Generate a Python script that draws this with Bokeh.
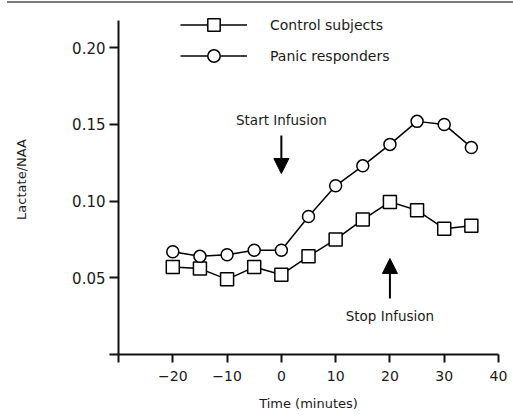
from bokeh.plotting import figure
from bokeh.models import (FixedTicker, Arrow, NormalHead, Label, Legend, LegendItem,
                          ColumnDataSource, Div)
from bokeh.layouts import column
from bokeh.embed import file_html
from bokeh.resources import INLINE

# ---- data ----
time_min = [-20, -15, -10, -5, 0, 5, 10, 15, 20, 25, 30, 35]
control = [0.057, 0.056, 0.049, 0.057, 0.052, 0.064, 0.075, 0.088, 0.0995, 0.094, 0.082, 0.084]
panic = [0.067, 0.064, 0.065, 0.068, 0.068, 0.090, 0.110, 0.123, 0.137, 0.152, 0.150, 0.135]
x_ticks = [-30, -20, -10, 0, 10, 20, 30, 40]
y_ticks = [0.0, 0.05, 0.10, 0.15, 0.20]
y_axis_top = 0.2178
start_label = "Start Infusion"
stop_label = "Stop Infusion"
start_x, stop_x = 0, 20

FONT = "DejaVu Sans"
INK = "#1a1a1a"

p = figure(width=513, height=416, x_range=(-30, 40), y_range=(0, 0.2282),
           output_backend="svg", toolbar_location=None,
           min_border_left=118, min_border_right=15, min_border_top=0,
           min_border_bottom=66)
p.outline_line_color = None
p.xgrid.visible = False
p.ygrid.visible = False
p.background_fill_color = "white"
p.border_fill_color = "white"

src = ColumnDataSource(dict(t=time_min, c=control, p=panic))

lc = p.line("t", "c", source=src, line_color="black", line_width=1.5)
mc = p.scatter("t", "c", source=src, marker="square", size=13, fill_color="white",
               line_color="black", line_width=1.5)
lp = p.line("t", "p", source=src, line_color="black", line_width=1.5)
mp = p.scatter("t", "p", source=src, marker="circle", size=12, fill_color="white",
               line_color="black", line_width=1.5)

# axes
for ax in (p.xaxis[0], p.yaxis[0]):
    ax.axis_line_width = 2
    ax.axis_line_color = "#111111"
    ax.major_tick_line_width = 2
    ax.major_tick_line_color = "#111111"
    ax.minor_tick_line_color = None
    ax.major_tick_in = 0
    ax.major_label_text_font = FONT
    ax.major_label_text_color = INK
    ax.axis_label_text_font = FONT
    ax.axis_label_text_font_style = "normal"
    ax.axis_label_text_color = INK

p.xaxis.ticker = FixedTicker(ticks=x_ticks)
p.xaxis.major_tick_out = 8
p.xaxis.major_label_text_font_size = "14px"
p.xaxis.major_label_overrides = {t: ("" if t == -30 else str(t).replace("-", "\u2212")) for t in x_ticks}
p.xaxis.major_label_standoff = 8
p.xaxis.axis_label = "Time (minutes)"
p.xaxis.axis_label_text_font_size = "13px"
p.xaxis.axis_label_standoff = 12

p.yaxis.ticker = FixedTicker(ticks=y_ticks)
p.yaxis.bounds = (0, y_axis_top)
p.yaxis.major_tick_out = 9
p.yaxis.major_label_text_font_size = "15px"
p.yaxis.major_label_overrides = {t: ("" if t == 0 else f"{t:.2f}") for t in y_ticks}
p.yaxis.major_label_standoff = 4
p.yaxis.axis_label = "Lactate/NAA"
p.yaxis.axis_label_text_font_size = "13px"
p.yaxis.axis_label_standoff = 40

# arrows
p.add_layout(Arrow(end=NormalHead(size=15, fill_color="black", line_color="black"),
                   x_start=start_x, y_start=0.1428, x_end=start_x, y_end=0.118,
                   line_width=2, line_color="black"))
p.add_layout(Arrow(end=NormalHead(size=15, fill_color="black", line_color="black"),
                   x_start=stop_x, y_start=0.0365, x_end=stop_x, y_end=0.0626,
                   line_width=2, line_color="black"))
p.add_layout(Label(x=start_x, y=0.153, text=start_label, text_align="center",
                   text_baseline="middle", text_font=FONT, text_font_size="13.5px",
                   text_color=INK))
p.add_layout(Label(x=stop_x, y=0.0254, text=stop_label, text_align="center",
                   text_baseline="middle", text_font=FONT, text_font_size="13.5px",
                   text_color=INK))

legend = Legend(items=[LegendItem(label="Control subjects", renderers=[lc, mc]),
                       LegendItem(label="Panic responders", renderers=[lp, mp])],
                location=(62, 283), orientation="vertical",
                glyph_width=67, glyph_height=31, label_height=31, spacing=0,
                label_standoff=23, padding=0, margin=0,
                border_line_color=None, background_fill_alpha=0,
                label_text_font=FONT, label_text_font_size="14px",
                label_text_color=INK)
p.add_layout(legend)

top_rule = Div(text="", width=506, height=2, margin=(1, 0, 1, 7),
               styles={"background-color": "#7a7a7a"})

layout = column(top_rule, p, spacing=0)
open("out.html", "w").write(file_html(layout, INLINE))
